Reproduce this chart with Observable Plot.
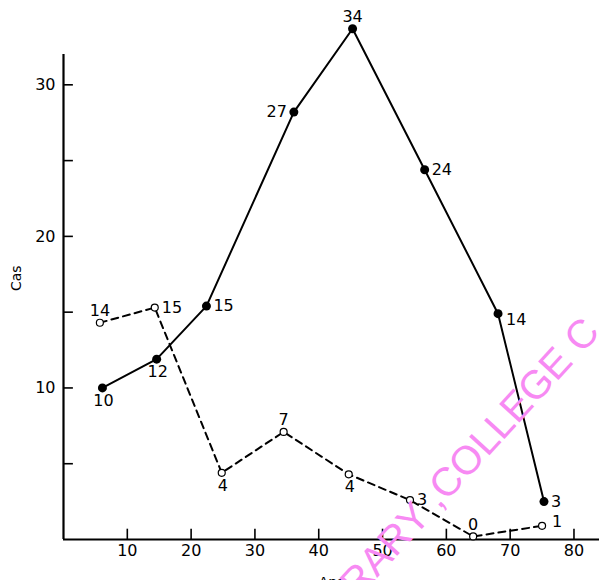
<!DOCTYPE html>
<html>
<head>
<meta charset="utf-8">
<script src="https://cdn.jsdelivr.net/npm/d3@7"></script>
<script src="https://cdn.jsdelivr.net/npm/@observablehq/plot@0.6"></script>
<style>
  html, body { margin: 0; padding: 0; background: #fff; }
  #chart { width: 599px; height: 580px; overflow: hidden; }
</style>
</head>
<body>
<div id="chart"></div>
<script>
// Solid series (filled dots)
const solidAges   = [6.1, 14.6, 22.4, 36.1, 45.3, 56.6, 68.1, 75.3];
const solidCases  = [10, 11.9, 15.4, 28.2, 33.7, 24.4, 14.9, 2.5];
const solidLabels = ["10", "12", "15", "27", "34", "24", "14", "3"];
// Dashed series (open circles)
const dashAges    = [5.7, 14.3, 24.8, 34.5, 44.7, 54.3, 64.2, 75.0];
const dashCases   = [14.3, 15.3, 4.4, 7.1, 4.3, 2.6, 0.2, 0.9];
const dashLabels  = ["14", "15", "4", "7", "4", "3", "0", "1"];
// Axis ticks
const xTickValues = [10, 20, 30, 40, 50, 60, 70, 80];
const yTickMarks  = [5, 10, 15, 20, 25, 30];
const yTickLabels = [10, 20, 30];
const xLabel = "Ans";
const yLabel = "Cas";
const watermarkHead = "LIBR";
const watermarkTail = "ARY ,COLLEGE C";

// Label placement (annotation style, kept separate from data)
const solidPlace = ["below", "below", "right", "left", "above", "right", "rightlow", "right"];
const dashPlace  = ["above", "right", "below", "above", "below", "right", "above", "rightup"];

const solid = solidAges.map((a, i) => ({age: a, cases: solidCases[i], label: solidLabels[i], pos: solidPlace[i]}));
const dashed = dashAges.map((a, i) => ({age: a, cases: dashCases[i], label: dashLabels[i], pos: dashPlace[i]}));

const placements = {
  below:    {dx: 1, dy: 13, textAnchor: "middle"},
  above:    {dx: 0, dy: -12, textAnchor: "middle"},
  right:    {dx: 7, dy: 0, textAnchor: "start"},
  rightlow: {dx: 8, dy: 6, textAnchor: "start"},
  rightup:  {dx: 10, dy: -4, textAnchor: "start"},
  left:     {dx: -7, dy: 0, textAnchor: "end"}
};

function labelMarks(data) {
  return Object.entries(placements).map(([k, p]) =>
    Plot.text(data, {
      filter: d => d.pos === k,
      x: "age", y: "cases", text: "label",
      dx: p.dx, dy: p.dy, textAnchor: p.textAnchor,
      fill: "black", fontSize: 16
    })
  );
}

const svg = Plot.plot({
  width: 599,
  height: 580,
  marginLeft: 63,
  marginRight: 0,
  marginTop: 4,
  marginBottom: 41,
  style: {fontFamily: "DejaVu Sans", fontSize: "16px", color: "black", background: "white"},
  x: {domain: [0, 84]},
  y: {domain: [0, 35.3]},
  marks: [
    Plot.ruleY([0], {stroke: "black", strokeWidth: 2.2}),
    Plot.ruleX([0], {y1: 0, y2: 32, stroke: "black", strokeWidth: 2.2}),
    Plot.ruleY(yTickMarks, {x1: 0, x2: 1.55, stroke: "black", strokeWidth: 1.6}),
    Plot.ruleX(xTickValues, {y1: 0, y2: 0.68, stroke: "black", strokeWidth: 1.6}),
    Plot.axisY({ticks: yTickLabels, tickSize: 0, tickPadding: 8, label: null, fontSize: 16}),
    Plot.axisX({ticks: xTickValues, tickSize: 0, tickPadding: 5, label: null, fontSize: 16}),
    Plot.text([yLabel], {frameAnchor: "left", dx: -47, dy: 19, rotate: -90, fontSize: 14, fill: "black"}),
    Plot.text([xLabel], {frameAnchor: "bottom", dy: 38, lineAnchor: "top", fontSize: 14, fill: "black"}),
    Plot.line(dashed, {x: "age", y: "cases", stroke: "black", strokeWidth: 2, strokeDasharray: "7,5"}),
    Plot.line(solid, {x: "age", y: "cases", stroke: "black", strokeWidth: 2}),
    Plot.dot(solid, {x: "age", y: "cases", r: 4.5, fill: "black", stroke: "none"}),
    Plot.dot(dashed, {x: "age", y: "cases", r: 3.5, fill: "white", stroke: "black", strokeWidth: 1.2}),
    ...labelMarks(solid),
    ...labelMarks(dashed)
  ]
});

// Pink watermark overlay (not chart data)
const wm = d3.select(svg).append("g")
  .attr("transform", "translate(377,578) rotate(-47.5)")
  .attr("font-family", "Liberation Sans")
  .attr("font-size", 40)
  .attr("fill", "#f78af3");
wm.append("text").attr("text-anchor", "start").text(watermarkTail);
wm.append("text").attr("text-anchor", "end").text(watermarkHead);

document.getElementById("chart").appendChild(svg);
</script>
</body>
</html>
